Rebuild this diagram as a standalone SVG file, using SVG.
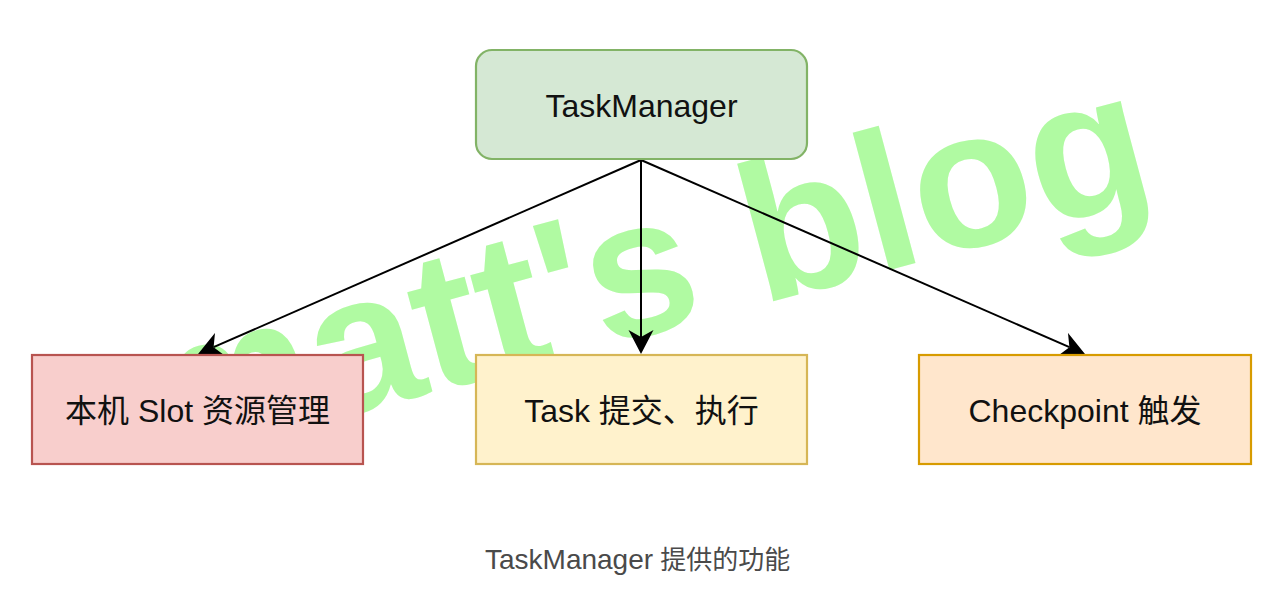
<svg xmlns="http://www.w3.org/2000/svg" width="1286" height="596" viewBox="0 0 1286 596">
  <defs>
    <style>
      .box { stroke-width: 2.2; }
      .lbl { font-family: "Liberation Sans", "Noto Sans CJK SC", sans-serif; font-size: 32px; fill: #111111; text-anchor: middle; }
      .edge { fill: none; stroke: #000000; stroke-width: 2; }
      .wm { font-family: "Liberation Sans", Arial, sans-serif; font-weight: bold; font-size: 196px; fill: #b0faa2; }
      .cap { font-family: "Liberation Sans", "Noto Sans CJK SC", sans-serif; fill: #4a4a4a; }
    </style>
    <marker id="arrow" viewBox="0 -13 25 26" refX="7" refY="0" markerWidth="25" markerHeight="26" markerUnits="userSpaceOnUse" orient="auto">
      <path d="M0,-12.5 L24,0 L0,12.5 L7,0 Z" fill="#000000"/>
    </marker>
  </defs>
  <rect width="1286" height="596" fill="#ffffff"/>

  <g id="watermark">
    <text class="wm" transform="translate(158,466) rotate(-15)" x="0" y="0">matt's blog</text>
  </g>

  <g id="connectors">
    <path class="edge" d="M641,160 L213.6,347.2" marker-end="url(#arrow)"/>
    <path class="edge" d="M641,160 L641,337" marker-end="url(#arrow)"/>
    <path class="edge" d="M641,160 L1069.4,347.2" marker-end="url(#arrow)"/>
  </g>

  <g id="taskmanager">
    <rect class="box" x="476" y="50" width="331" height="109" rx="16" ry="16" fill="#d5e8d4" stroke="#82b366"/>
    <text class="lbl" x="641.5" y="117">TaskManager</text>
  </g>

  <g id="slot">
    <rect class="box" x="32" y="355" width="331" height="109" fill="#f8cecc" stroke="#b85450"/>
    <text class="lbl" x="197.5" y="422">本机 Slot 资源管理</text>
  </g>

  <g id="task">
    <rect class="box" x="476" y="355" width="331" height="109" fill="#fff2cc" stroke="#d6b656"/>
    <text class="lbl" x="641.5" y="422">Task 提交、执行</text>
  </g>

  <g id="checkpoint">
    <rect class="box" x="919" y="355" width="332" height="109" fill="#ffe6cc" stroke="#d79b00"/>
    <text class="lbl" x="1085" y="422">Checkpoint 触发</text>
  </g>

  <g id="caption">
    <text class="cap" x="485" y="569"><tspan font-size="28">TaskManager</tspan><tspan font-size="26"> 提供的功能</tspan></text>
  </g>
</svg>
